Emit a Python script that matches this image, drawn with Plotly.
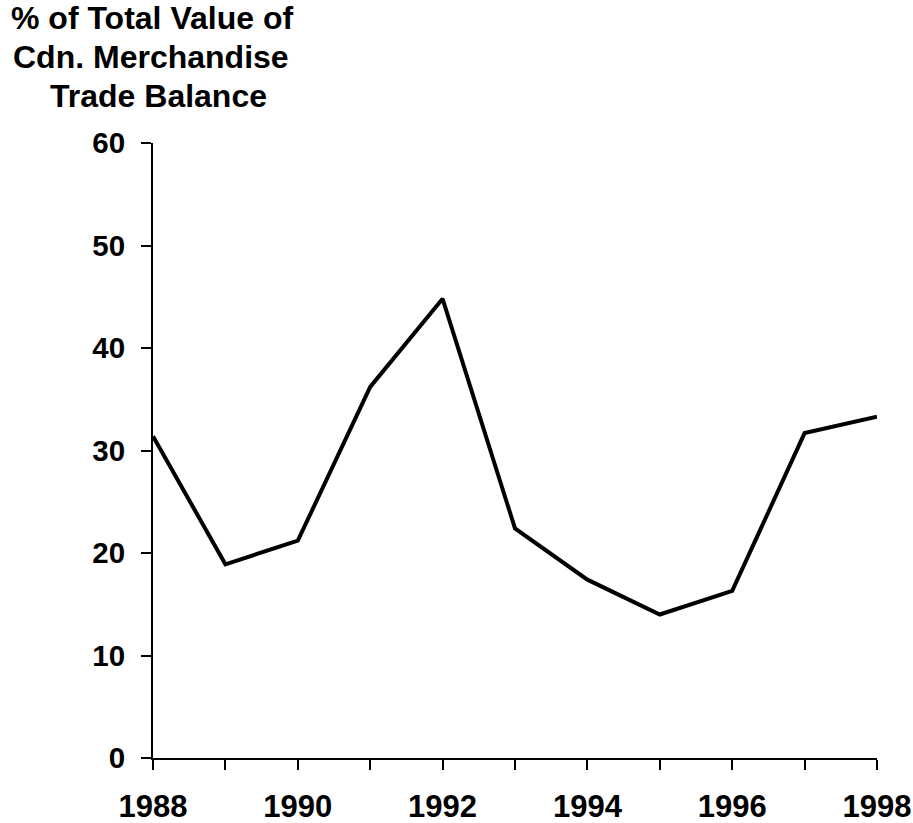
import plotly.graph_objects as go

years = [1988, 1989, 1990, 1991, 1992, 1993, 1994, 1995, 1996, 1997, 1998]
share = [31.4, 18.9, 21.2, 36.2, 44.8, 22.4, 17.4, 14.0, 16.3, 31.7, 33.3]
x_tick_vals = years
x_tick_text = ["1988", "", "1990", "", "1992", "", "1994", "", "1996", "", "1998"]
y_tick_vals = [0, 10, 20, 30, 40, 50, 60]
title_lines = ["% of Total Value of", "Cdn. Merchandise", "Trade Balance"]

FONT = "Liberation Sans, Arial, sans-serif"

fig = go.Figure()
fig.add_trace(go.Scatter(x=years, y=share, mode="lines",
                         line=dict(color="black", width=4), cliponaxis=False,
                         hoverinfo="skip"))

W, H = 913, 823
ml, mr, mt, mb = 153, 36, 143, 65
pw, ph = W - ml - mr, H - mt - mb
fig.update_layout(
    width=W, height=H,
    margin=dict(l=ml, r=mr, t=mt, b=mb, autoexpand=False),
    paper_bgcolor="white", plot_bgcolor="white",
    showlegend=False,
    font=dict(family=FONT, size=31, color="black"),
    xaxis=dict(range=[1988, 1998], tickvals=x_tick_vals, ticktext=x_tick_text,
               showgrid=False, zeroline=False, showline=True, linecolor="black",
               linewidth=2, ticks="outside", ticklen=10, tickwidth=2, tickcolor="black",
               tickfont=dict(family=FONT, size=31, color="black", weight="bold"),
               ticklabelstandoff=10, automargin=False),
    yaxis=dict(range=[0, 60], tickvals=y_tick_vals,
               showgrid=False, zeroline=False, showline=True, linecolor="black",
               linewidth=2, ticks="outside", ticklen=10, tickwidth=2, tickcolor="black",
               tickfont=dict(family=FONT, size=29.5, color="black", weight="bold"),
               ticklabelstandoff=10, automargin=False),
)

line_centers_px = [18, 57, 96]
line_x_px = [152, 151, 158]
for txt, cy, cx in zip(title_lines, line_centers_px, line_x_px):
    fig.add_annotation(text=txt, xref="paper", yref="paper",
                       x=(cx - ml) / pw, y=(H - mb - cy) / ph,
                       xanchor="center", yanchor="middle", showarrow=False,
                       font=dict(family=FONT, size=32, color="black", weight="bold"))

fig.write_html("out.html", config={"displayModeBar": False},
               post_script="document.body.style.margin='0';document.body.style.overflow='hidden';")
